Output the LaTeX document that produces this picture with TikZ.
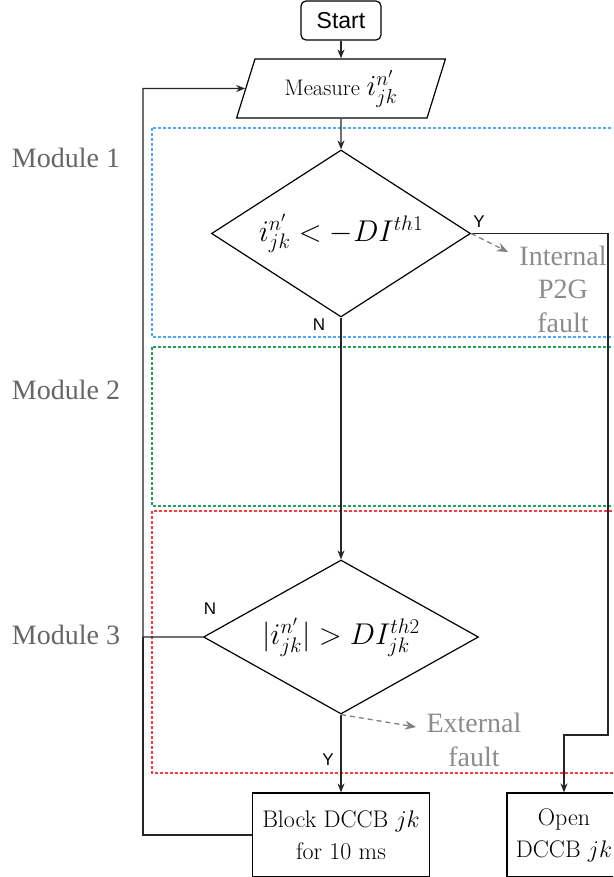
\RequirePackage{fix-cm}
\documentclass[tikz,border=0pt]{standalone}
\usepackage{fontspec}
\newfontfamily\tnr{Liberation Serif}
\newfontfamily\hel{Liberation Sans}
\usetikzlibrary{shapes.geometric,arrows.meta}
\definecolor{modblue}{HTML}{4DA6FF}
\definecolor{modgreen}{HTML}{23A05A}
\definecolor{modred}{HTML}{FF3B3B}
\definecolor{modtext}{HTML}{666666}
\definecolor{faulttext}{HTML}{8C8C8C}
\definecolor{faultarrow}{HTML}{808080}
\newcommand{\bigmath}[1]{{\fontsize{29}{34}\selectfont$#1$}}
\begin{document}
\begin{tikzpicture}[x=1pt,y=-1pt,
  line width=1.2pt,
  conn/.style={draw=black!85,-{Stealth[length=9pt,width=7pt]}},
  plain/.style={draw=black!85},
  faultconn/.style={draw=faultarrow,line width=1.3pt,dash pattern=on 5pt off 4pt,-{Stealth[length=11pt,width=9pt]}},
  startbox/.style={draw,rounded corners=5pt,minimum width=80pt,minimum height=39pt,inner sep=0pt,font=\hel\fontsize{23}{27}\selectfont},
  iobox/.style={draw,trapezium,trapezium left angle=72,trapezium right angle=108,trapezium stretches=true,minimum width=209pt,minimum height=59pt,inner sep=0pt,font=\fontsize{22.5}{26}\selectfont},
  decbox/.style={draw,diamond,inner sep=0pt,font=\fontsize{30}{35}\selectfont},
  procbox/.style={draw,rectangle,inner sep=0pt,align=center,font=\fontsize{24}{32}\selectfont},
  ynlabel/.style={inner sep=0pt,font=\hel\fontsize{17}{20}\selectfont},
  modlabel/.style={inner sep=0pt,text=modtext,font=\tnr\fontsize{28}{34}\selectfont},
  faultlabel/.style={inner sep=0pt,align=center,text=faulttext,font=\tnr\fontsize{28}{33.5}\selectfont},
  moddash/.style={line width=1.3pt,dash pattern=on 3pt off 2pt}
]
\useasboundingbox (0,0) rectangle (613,877);
\clip (0,0) rectangle (613,877);
\fill[white] (0,0) rectangle (613,877);

% module frames
\draw[moddash,draw=modblue] (152,128) rectangle (640,337);
\draw[moddash,draw=modgreen] (152,347) rectangle (640,506);
\draw[moddash,draw=modred] (152,511) rectangle (640,773);

\node[modlabel] (m1) at (66,158) {Module 1};
\node[modlabel] (m2) at (66,390) {Module 2};
\node[modlabel] (m3) at (66,635) {Module 3};

% nodes
\node[startbox] (start) at (341,20.5) {Start};
\node[iobox] (meas) at (341,88.5) {Measure \bigmath{i^{n'}_{jk}}};
\node[decbox,minimum width=259pt,minimum height=167pt,aspect=1.55] (d1) at (341,233.5) {$i^{n'}_{jk} < -DI^{th1}$};
\node[decbox,minimum width=275pt,minimum height=154pt,aspect=1.79] (d2) at (341,637) {$|i^{n'}_{jk}| > DI^{th2}_{jk}$};
\node[procbox,minimum width=177pt,minimum height=84pt] (block) at (341,835) {Block DCCB $jk$\\for 10 ms};
\node[procbox,minimum width=114pt,minimum height=84pt] (open) at (564,835) {Open\\DCCB $jk$};

\node[faultlabel] (intf) at (563,289) {Internal\\P2G\\fault};
\node[faultlabel] (extf) at (474,740) {External\\fault};

\node[ynlabel] (y1) at (479,222) {Y};
\node[ynlabel] (n1) at (319,325) {N};
\node[ynlabel] (n2) at (210,609) {N};
\node[ynlabel] (y2) at (328,760) {Y};

\coordinate (lp) at (143,88.5);
\coordinate (rc) at (608,735);
\coordinate (f1) at (508,252);
\coordinate (f2) at (416,727);

% connectors
\draw[conn] (start) -- (meas);
\draw[conn] (meas) -- (d1);
\draw[conn] (d1.south) -- (d2.north);
\draw[conn] (d1.east) -| (rc) -| (open.north);
\draw[conn] (d2.south) -- (block.north);
\draw[conn] (d2.west) -| (lp) -- (meas.west);
\draw[plain] (block.west) -| (d2.west -| lp);
\draw[faultconn] (d1.east) -- (f1);
\draw[faultconn] (d2.south) -- (f2);
\end{tikzpicture}
\end{document}
